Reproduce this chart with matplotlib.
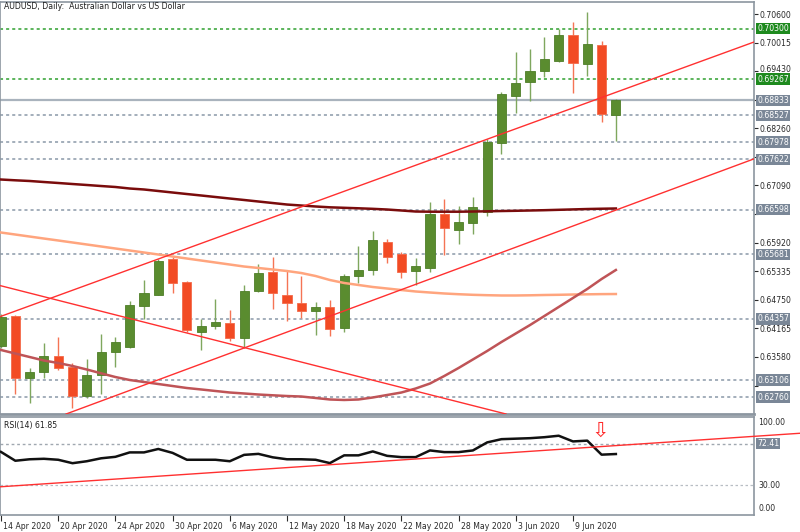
import matplotlib
matplotlib.use('Agg')
import matplotlib.pyplot as plt
import matplotlib.transforms as mtransforms
import numpy as np

plt.rcParams['font.family'] = ['DejaVu Sans']

title = 'AUDUSD, Daily:  Australian Dollar vs US Dollar'
date_labels = ['14 Apr 2020', '20 Apr 2020', '24 Apr 2020', '30 Apr 2020', '6 May 2020',
               '12 May 2020', '18 May 2020', '22 May 2020', '28 May 2020', '3 Jun 2020',
               '9 Jun 2020']
date_bars = [0, 4, 8, 12, 16, 20, 24, 28, 32, 36, 40]

# daily candles, 14 Apr .. 12 Jun 2020
opens = [0.63810, 0.64418, 0.63155, 0.63266, 0.63599, 0.63368, 0.62787, 0.63210, 0.63687, 0.63790,
         0.64629, 0.64854, 0.65579, 0.65108, 0.64097, 0.64207, 0.64269, 0.63974, 0.64924, 0.65313,
         0.64854, 0.64690, 0.64520, 0.64596, 0.64166, 0.65237, 0.65360, 0.65939, 0.65697, 0.65339,
         0.65401, 0.66500, 0.66178, 0.66328, 0.66553, 0.67966, 0.68928, 0.69202, 0.69427, 0.69632,
         0.70176, 0.69570, 0.69959, 0.68539]
highs = [0.64459, 0.64439, 0.63347, 0.63859, 0.63988, 0.63462, 0.63538, 0.64056, 0.63982, 0.64725,
         0.65155, 0.65579, 0.65626, 0.65135, 0.64350, 0.64766, 0.64535, 0.65053, 0.65482, 0.65632,
         0.65366, 0.65231, 0.64698, 0.64739, 0.65284, 0.65857, 0.66168, 0.65994, 0.65728, 0.65605,
         0.66758, 0.66807, 0.66676, 0.66854, 0.68041, 0.68997, 0.69828, 0.69884, 0.70135, 0.70299,
         0.70430, 0.70647, 0.70047, 0.68860]
lows = [0.63763, 0.62821, 0.62631, 0.63143, 0.63313, 0.62529, 0.62733, 0.62821, 0.63368, 0.63770,
        0.64357, 0.64840, 0.64899, 0.64097, 0.63722, 0.64152, 0.63912, 0.63757, 0.64910, 0.64555,
        0.64322, 0.64371, 0.64035, 0.64015, 0.64097, 0.65087, 0.65257, 0.65497, 0.65196, 0.65053,
        0.65319, 0.65667, 0.65886, 0.66090, 0.66471, 0.67734, 0.68567, 0.68819, 0.69304, 0.69611,
        0.68983, 0.69331, 0.68383, 0.68000]
closes = [0.64404, 0.63155, 0.63266, 0.63599, 0.63347, 0.62787, 0.63216, 0.63687, 0.63892, 0.64637,
          0.64895, 0.65550, 0.65087, 0.64131, 0.64220, 0.64295, 0.63962, 0.64930, 0.65292, 0.64895,
          0.64690, 0.64527, 0.64596, 0.64146, 0.65237, 0.65360, 0.65964, 0.65632, 0.65325, 0.65442,
          0.66500, 0.66213, 0.66348, 0.66655, 0.67980, 0.68956, 0.69194, 0.69433, 0.69685, 0.70176,
          0.69603, 0.69980, 0.68547, 0.68833]

# moving averages
ma_slow = [0.67212, 0.67196, 0.67182, 0.67161, 0.67141, 0.67120, 0.67100, 0.67079, 0.67059, 0.67028,
           0.67008, 0.66977, 0.66946, 0.66915, 0.66885, 0.66854, 0.66823, 0.66793, 0.66762, 0.66731,
           0.66700, 0.66680, 0.66660, 0.66643, 0.66633, 0.66623, 0.66612, 0.66598, 0.66578, 0.66557,
           0.66553, 0.66553, 0.66553, 0.66557, 0.66561, 0.66567, 0.66572, 0.66578, 0.66584, 0.66592,
           0.66600, 0.66608, 0.66614, 0.66619]
ma_mid = [0.66127, 0.66086, 0.66045, 0.66004, 0.65964, 0.65923, 0.65882, 0.65841, 0.65800, 0.65759,
          0.65718, 0.65677, 0.65636, 0.65595, 0.65554, 0.65513, 0.65472, 0.65431, 0.65401, 0.65370,
          0.65339, 0.65298, 0.65237, 0.65155, 0.65094, 0.65053, 0.65012, 0.64981, 0.64950, 0.64920,
          0.64899, 0.64879, 0.64864, 0.64852, 0.64844, 0.64838, 0.64838, 0.64842, 0.64848, 0.64852,
          0.64858, 0.64862, 0.64866, 0.64868]
ma_fast = [0.63722, 0.63650, 0.63579, 0.63507, 0.63456, 0.63395, 0.63323, 0.63245, 0.63169, 0.63108,
           0.63067, 0.63026, 0.62985, 0.62944, 0.62914, 0.62883, 0.62852, 0.62832, 0.62811, 0.62795,
           0.62780, 0.62770, 0.62740, 0.62709, 0.62699, 0.62709, 0.62750, 0.62801, 0.62852, 0.62934,
           0.63036, 0.63190, 0.63354, 0.63528, 0.63702, 0.63886, 0.64060, 0.64234, 0.64418, 0.64602,
           0.64787, 0.64971, 0.65175, 0.65360]

rsi = [64.0, 55.0, 56.5, 57.0, 56.0, 52.5, 54.5, 57.5, 59.0, 63.5,
       63.5, 67.0, 63.0, 56.0, 56.0, 56.0, 54.5, 61.0, 62.0, 58.5,
       56.5, 56.5, 56.0, 52.6, 60.5, 60.5, 64.5, 60.0, 58.7, 58.7,
       65.5, 63.8, 63.8, 65.5, 73.7, 77.0, 77.5, 78.0, 79.0, 80.5,
       74.7, 75.5, 61.2, 61.85]
rsi_value = 61.85
rsi_level = 72.41

green_levels = [0.70300, 0.69267]
gray_levels = [0.68527, 0.67978, 0.67622, 0.66598, 0.65681, 0.64357, 0.63106, 0.62760]
last_price = 0.68833
price_ticks = [0.70600, 0.70015, 0.69430, 0.68845, 0.68260, 0.67675, 0.67090, 0.66505,
               0.65920, 0.65335, 0.64750, 0.64165, 0.63580, 0.62995]
# tick labels hidden behind the level boxes
hidden_ticks = [0.68845, 0.67675, 0.66505, 0.62995]

# trend lines as (bar, value) anchors
channel_top = [(0, 0.64412), (43, 0.68997)]
channel_bottom = [(20, 0.64089), (43, 0.66586)]
falling_line = [(0, 0.65036), (30, 0.62807)]
rsi_trend = [(0, 28.5), (45, 72.4)]

GREEN = '#5A8C2F'
RED = '#F24B24'
GRID = '#8A98A8'
FRAME = '#8C96A0'

opens = np.array(opens)
closes = np.array(closes)
highs = np.array(highs)
lows = np.array(lows)
x = np.arange(len(opens))

fig = plt.figure(figsize=(8, 5.32), dpi=100)
ax = fig.add_axes([0.0, 1 - 414 / 532, 754 / 800, 412 / 532])
axr = fig.add_axes([0.0, 1 - 514.7 / 532, 754 / 800, 98.1 / 532])

# horizontal levels
for lvl in green_levels:
    ax.axhline(lvl, color='#2FA02F', lw=1.1, ls=(0, (2, 2)), zorder=1)
for lvl in gray_levels:
    ax.axhline(lvl, color=GRID, lw=1.1, ls=(0, (2, 2)), zorder=1)
ax.axhline(last_price, color='#A9B3BD', lw=1.6, zorder=1)

# candles
up = closes >= opens
down = ~up
body_low = np.minimum(opens, closes)
body_h = np.maximum(np.abs(closes - opens), 0.00004)
ax.vlines(x[up], lows[up], highs[up], color='#7FA75E', lw=1.0, zorder=3)
ax.vlines(x[down], lows[down], highs[down], color='#F57454', lw=1.0, zorder=3)
ax.bar(x[up], body_h[up], bottom=body_low[up], width=0.64, color=GREEN,
       edgecolor='#4E7E28', lw=0.6, zorder=4)
ax.bar(x[down], body_h[down], bottom=body_low[down], width=0.64, color=RED,
       edgecolor='#F46A4A', lw=0.6, zorder=4)

# moving averages
ax.plot(x, ma_slow, color='#7A0C0C', lw=1.8, zorder=5)
ax.plot(x, ma_mid, color='#FFA57E', lw=1.8, zorder=5)
ax.plot(x, ma_fast, color='#BF5457', lw=1.8, zorder=5)

# trend lines
for line in (channel_top, channel_bottom, falling_line):
    ax.axline(line[0], line[1], color='#FF3030', lw=1.0, zorder=6)

ax.set_xlim(-0.07, 52.66)
ax.set_ylim(0.62412, 0.70846)
ax.set_xticks([])
ax.yaxis.tick_right()
ax.set_yticks(price_ticks)
ax.set_yticklabels(['' if v in hidden_ticks else f'{v:.5f}' for v in price_ticks])
ax.tick_params(axis='y', length=3, width=0.8, pad=1, labelsize=5.6, colors='#2A2A2A')
# nudge the label sitting just above the 0.69267 box
up_shift = mtransforms.ScaledTranslation(0, 2.5 / 100, fig.dpi_scale_trans)
for v, lbl in zip(price_ticks, ax.get_yticklabels()):
    if v == 0.69430:
        lbl.set_transform(lbl.get_transform() + up_shift)
for s in ax.spines.values():
    s.set_color(FRAME)
    s.set_linewidth(1.2)
ax.spines['bottom'].set_linewidth(2.0)

trans = mtransforms.blended_transform_factory(ax.transAxes, ax.transData)
for lvl in green_levels:
    ax.text(1.004, lvl, f'{lvl:.5f}', transform=trans, ha='left', va='center', fontsize=5.6,
            color='white', bbox=dict(boxstyle='square,pad=0.15', fc='#1E8A1E', ec='none'),
            clip_on=False, zorder=10)
for lvl in gray_levels + [last_price]:
    ax.text(1.004, lvl, f'{lvl:.5f}', transform=trans, ha='left', va='center', fontsize=5.6,
            color='white', bbox=dict(boxstyle='square,pad=0.15', fc='#7A8797', ec='none'),
            clip_on=False, zorder=10)

ax.text(0.005, 1 - 4.7 / 412, title, transform=ax.transAxes, ha='left', va='center',
        fontsize=5.6, color='#1E1E1E')

# RSI panel
axr.axhline(rsi_level, color='#A0A8B0', lw=1.0, ls=(0, (2, 2)), zorder=1)
axr.axhline(30, color='#B8BEC4', lw=0.9, ls=(0, (2, 2)), zorder=1)
axr.plot(x, rsi, color='#111111', lw=1.8, zorder=5)

slope = (rsi_trend[1][1] - rsi_trend[0][1]) / (rsi_trend[1][0] - rsi_trend[0][0])
tx = np.array([-0.07, 55.9])
ty = rsi_trend[0][1] + slope * (tx - rsi_trend[0][0])
axr.plot(tx, ty, color='#FF3030', lw=1.0, zorder=6, clip_on=False)

axr.text(41.9, 86, '\u21e9', color='#FF2A2A', fontsize=15, ha='center', va='center', zorder=7)

axr.set_xlim(-0.07, 52.66)
axr.set_ylim(0, 100)
axr.set_yticks([])
axr.set_xticks(date_bars)
axr.set_xticklabels(date_labels)
axr.tick_params(axis='x', length=4, width=0.8, pad=1.0, labelsize=5.6, colors='#2A2A2A')
offset = mtransforms.ScaledTranslation(2 / 100, 0, fig.dpi_scale_trans)
for lbl in axr.get_xticklabels():
    lbl.set_ha('left')
    lbl.set_transform(lbl.get_transform() + offset)
for s in axr.spines.values():
    s.set_color(FRAME)
    s.set_linewidth(1.2)

rtrans = mtransforms.blended_transform_factory(axr.transAxes, axr.transData)
axr.text(1.006, 99, '100.00', transform=rtrans, ha='left', va='top', fontsize=5.6, color='#2A2A2A')
axr.text(1.006, 30, '30.00', transform=rtrans, ha='left', va='center', fontsize=5.6, color='#2A2A2A')
axr.text(1.006, 1.5, '0.00', transform=rtrans, ha='left', va='bottom', fontsize=5.6, color='#2A2A2A')
axr.text(1.004, rsi_level, f'{rsi_level:.2f}', transform=rtrans, ha='left', va='center',
         fontsize=5.6, color='white', bbox=dict(boxstyle='square,pad=0.15', fc='#7A8797', ec='none'),
         clip_on=False, zorder=10)
axr.text(0.005, 0.91, f'RSI(14) {rsi_value}', transform=axr.transAxes, ha='left', va='center',
         fontsize=5.6, color='#1E1E1E')

fig.savefig('out.png', dpi=100)
